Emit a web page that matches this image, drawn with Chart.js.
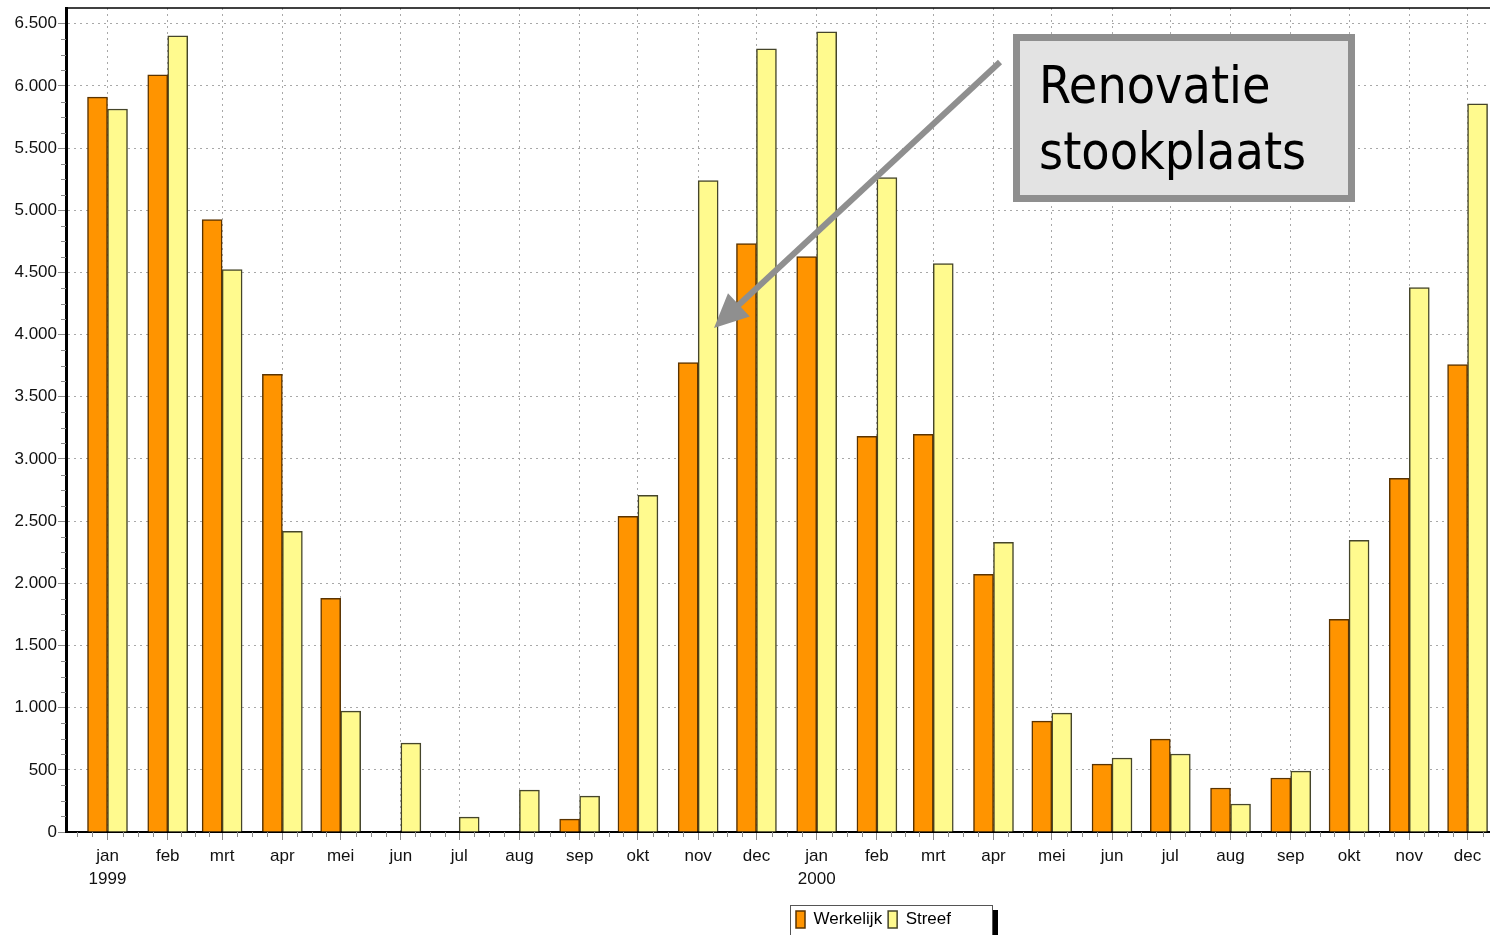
<!DOCTYPE html>
<html><head><meta charset="utf-8">
<script src="https://cdn.jsdelivr.net/npm/chart.js@4/dist/chart.umd.min.js"></script>
<style>html,body{margin:0;padding:0;background:#fff;overflow:hidden}#wrap{position:relative;width:1490px;height:935px}</style>
</head><body><div id="wrap"><canvas id="c" width="1490" height="935"></canvas></div>
<script>
// ---- data ----
const monthNames = ['jan','feb','mrt','apr','mei','jun','jul','aug','sep','okt','nov','dec'];
const years = [1999, 2000];
const werkelijk = [5910, 6090, 4925, 3680, 1880, null, null, null, 104, 2539, 3776, 4732,
                   4628, 3182, 3198, 2073, 892, 546, 747, 354, 434, 1711, 2844, 3760];
const streef    = [5815, 6404, 4524, 2418, 972, 715, 120, 337, 289, 2708, 5239, 6299,
                   6436, 5263, 4572, 2330, 956, 595, 627, 225, 490, 2346, 4379, 5857];
const yTickValues = [0, 500, 1000, 1500, 2000, 2500, 3000, 3500, 4000, 4500, 5000, 5500, 6000, 6500];
const seriesNames = ['Werkelijk', 'Streef'];
const annotationLines = ['Renovatie', 'stookplaats'];

// ---- derived ----
const DAY = 864e5;
const periods = [];
years.forEach(y => monthNames.forEach((m, i) => periods.push({y, i, m})));
const xs = periods.map(p => Date.UTC(p.y, p.i, 1) / DAY);
const xLabels = periods.map(p => p.i === 0 ? [p.m, String(p.y)] : p.m);
const xMin = xs[0] - 21.36;
const xMax = xMin + 732.9;

const FONT = '"Liberation Sans", Arial, sans-serif';
const fmt = v => String(v).replace(/\B(?=(\d{3})+(?!\d))/g, '.');

const extras = {
  id: 'extras',
  afterLayout(chart) {
    const lg = chart.legend;
    lg.left = 790; lg.right = 992; lg.top = 905; lg.bottom = 935;
    lg.width = 202; lg.height = 30;
  },
  afterDraw(chart) {
    const ctx = chart.ctx, a = chart.chartArea;
    const xs_ = chart.scales.x, ys_ = chart.scales.y;
    ctx.save();
    // top border
    ctx.strokeStyle = '#000'; ctx.lineWidth = 1.5;
    ctx.beginPath(); ctx.moveTo(a.left, a.top); ctx.lineTo(a.right, a.top); ctx.stroke();
    // minor ticks
    ctx.strokeStyle = '#8a8a8a'; ctx.lineWidth = 1;
    ctx.beginPath();
    for (let v = 0; v <= 6500; v += 125) {
      if (v % 500 === 0) continue;
      const y = Math.round(ys_.getPixelForValue(v)) + 0.5;
      ctx.moveTo(a.left - 5, y); ctx.lineTo(a.left, y);
    }
    const bounds = [xs[0] - 31].concat(xs).concat([xs[xs.length - 1] + 31]);
    for (let k = 0; k < bounds.length - 1; k++) {
      for (let q = 1; q < 4; q++) {
        const v = bounds[k] + (bounds[k + 1] - bounds[k]) * q / 4;
        const x = Math.round(xs_.getPixelForValue(v)) + 0.5;
        if (x <= a.left + 1 || x >= a.right) continue;
        ctx.moveTo(x, a.bottom); ctx.lineTo(x, a.bottom + 5);
      }
    }
    ctx.stroke();
    // legend frame
    const lg = chart.legend;
    ctx.strokeStyle = '#555'; ctx.lineWidth = 1;
    ctx.strokeRect(lg.left + 0.5, lg.top + 0.5, lg.right - lg.left, lg.bottom - lg.top);
    ctx.fillStyle = '#000';
    ctx.fillRect(lg.right + 1, lg.top + 5, 5, lg.bottom - lg.top);
    // annotation arrow
    const x1 = 1000, y1 = 62, tx = 714, ty = 328;
    const ang = Math.atan2(ty - y1, tx - x1);
    const hl = 34, hw = 16;
    const bx = tx - hl * Math.cos(ang), by = ty - hl * Math.sin(ang);
    ctx.strokeStyle = '#8f8f8f'; ctx.fillStyle = '#8f8f8f'; ctx.lineWidth = 6;
    ctx.beginPath(); ctx.moveTo(x1, y1); ctx.lineTo(bx + 4 * Math.cos(ang), by + 4 * Math.sin(ang)); ctx.stroke();
    ctx.beginPath();
    ctx.moveTo(tx, ty);
    ctx.lineTo(bx + hw * Math.sin(ang), by - hw * Math.cos(ang));
    ctx.lineTo(bx - hw * Math.sin(ang), by + hw * Math.cos(ang));
    ctx.closePath(); ctx.fill();
    // annotation box
    ctx.fillStyle = '#e3e3e3';
    ctx.fillRect(1013, 34, 342, 168);
    ctx.strokeStyle = '#8f8f8f'; ctx.lineWidth = 7;
    ctx.strokeRect(1016.5, 37.5, 335, 161);
    ctx.fillStyle = '#000';
    ctx.font = '51.5px "DejaVu Sans Condensed", "Open Sans", sans-serif';
    ctx.textBaseline = 'alphabetic'; ctx.textAlign = 'left';
    ctx.fillText(annotationLines[0], 1039, 103);
    ctx.fillText(annotationLines[1], 1039, 169);
    ctx.restore();
  }
};

new Chart(document.getElementById('c'), {
  type: 'bar',
  data: {
    datasets: [
      { label: seriesNames[0], data: werkelijk.map((v, i) => ({x: xs[i], y: v})),
        backgroundColor: '#ff9400', borderColor: '#5a3300', borderWidth: 1.5 },
      { label: seriesNames[1], data: streef.map((v, i) => ({x: xs[i], y: v})),
        backgroundColor: '#fffa8e', borderColor: '#45452a', borderWidth: 1.5 }
    ]
  },
  options: {
    responsive: false, animation: false,
    layout: { padding: { top: 8, left: 0, right: 0, bottom: 0 } },
    datasets: { bar: { barThickness: 20, grouped: true } },
    plugins: {
      tooltip: { enabled: false },
      legend: {
        position: 'bottom', align: 'start',
        labels: { boxWidth: 9, boxHeight: 17, padding: 6, color: '#000', font: { family: FONT, size: 17 } }
      }
    },
    scales: {
      x: {
        type: 'linear', min: xMin, max: xMax, offset: false,
        afterBuildTicks: s => { s.ticks = xs.map(v => ({value: v})); },
        afterFit: s => { s.height = 70; s.paddingLeft = 0; s.paddingRight = 0; },
        ticks: { autoSkip: false, maxRotation: 0, minRotation: 0, padding: 4, color: '#111',
                 font: { family: FONT, size: 17, lineHeight: 1.4 },
                 callback: (v, i) => xLabels[i] },
        grid: { offset: false, color: '#a8a8a8', lineWidth: 1, tickLength: 8, tickColor: '#8a8a8a', tickBorderDash: [] },
        border: { display: true, color: '#000', width: 2, dash: [2, 4] }
      },
      y: {
        min: 0, max: 6627,
        afterBuildTicks: s => { s.ticks = yTickValues.map(v => ({value: v})); },
        afterFit: s => { s.width = 66; s.paddingTop = 0; s.paddingBottom = 0; },
        ticks: { padding: 1, color: '#111', font: { family: FONT, size: 17 }, callback: v => fmt(v) },
        grid: { color: '#a8a8a8', lineWidth: 1, tickLength: 8, tickColor: '#8a8a8a', tickBorderDash: [] },
        border: { display: true, color: '#000', width: 3, dash: [2, 4] }
      }
    }
  },
  plugins: [extras]
});
</script></body></html>
